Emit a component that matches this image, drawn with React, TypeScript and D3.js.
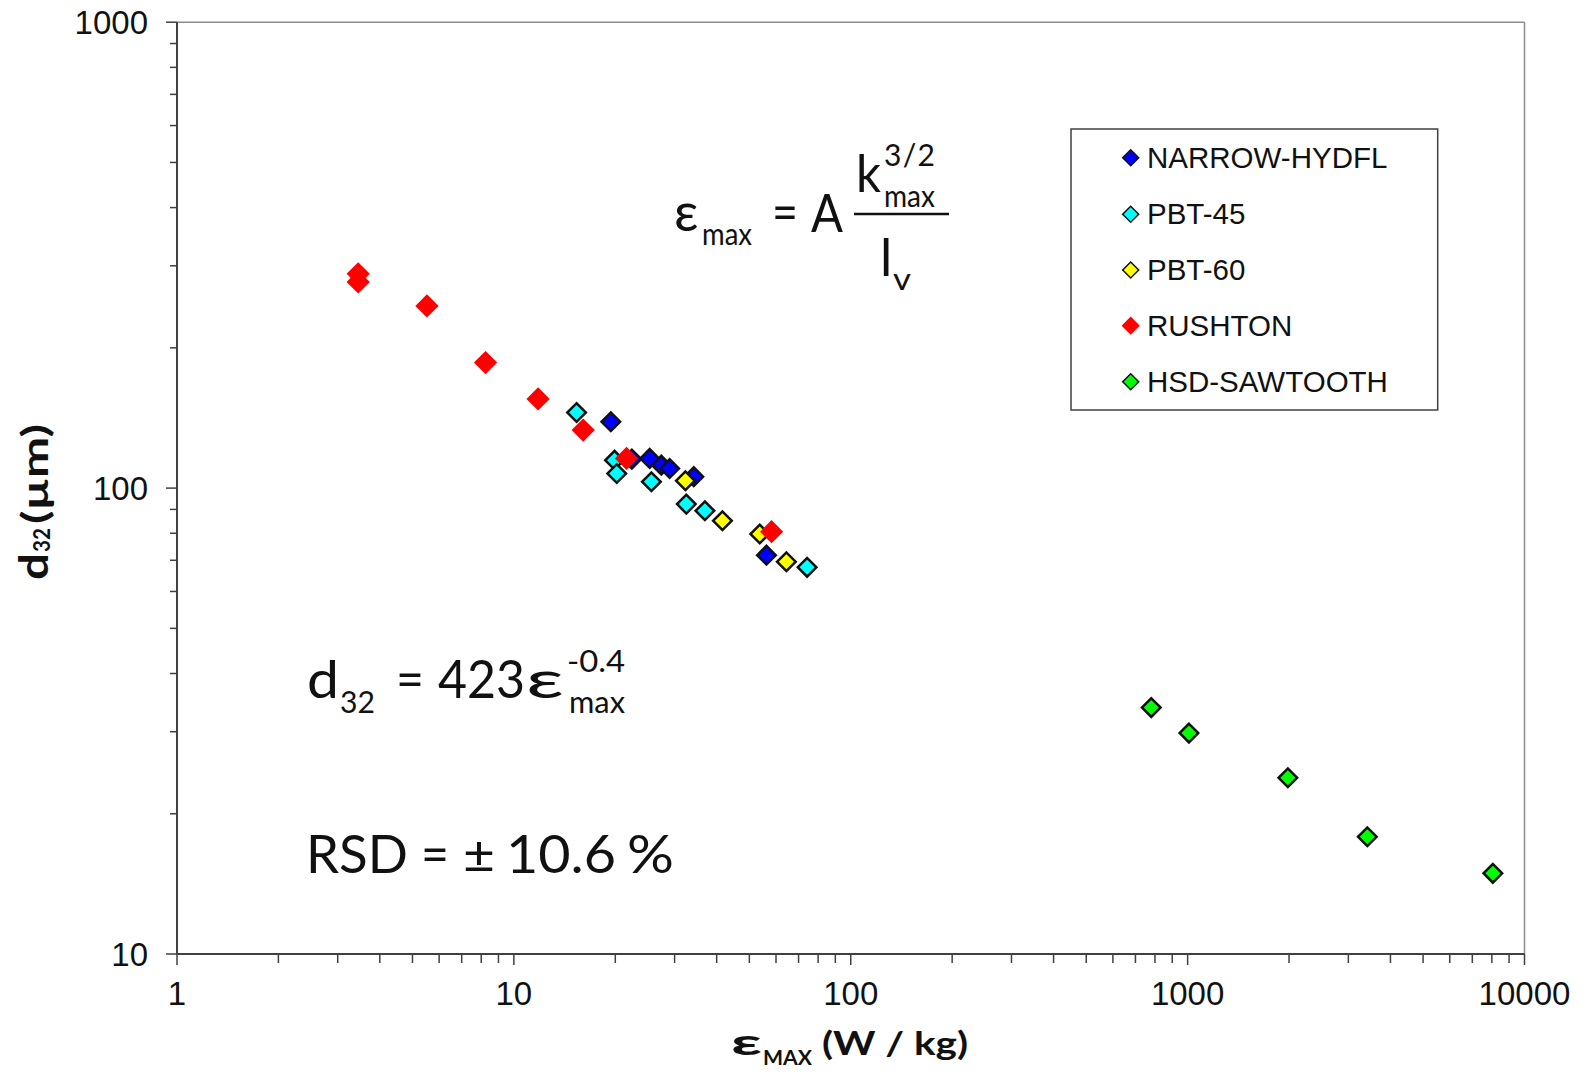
import React from "react";
import * as d3 from "d3";

// ---- data ----
const seriesNames = ["NARROW-HYDFL", "PBT-45", "PBT-60", "RUSHTON", "HSD-SAWTOOTH"];
const seriesColors = ["#0000ff", "#00ffff", "#ffff00", "#ff0000", "#00ff00"];

const narrowX = [19.4, 22.4, 25.3, 27.4, 29.0, 34.2, 56.2];
const narrowY = [138.8, 115.4, 115.8, 112.0, 110.2, 105.8, 71.8];

const pbt45X = [15.35, 19.9, 20.2, 25.6, 32.5, 36.9, 74.2];
const pbt45Y = [145.3, 114.8, 107.5, 103.2, 92.4, 89.4, 67.6];

const pbt60X = [32.3, 41.6, 53.7, 64.4];
const pbt60Y = [103.7, 85.1, 79.7, 69.5];

const rushtonX = [3.45, 3.45, 5.52, 8.24, 11.8, 16.06, 21.6, 58.2];
const rushtonY = [288.4, 277, 246, 186, 155.4, 133.2, 115.8, 80.6];

const hsdX = [780, 1009, 1984, 3415, 8054];
const hsdY = [33.8, 29.8, 23.9, 17.85, 14.9];

const xTickLabels = ["1", "10", "100", "1000", "10000"];
const yTickLabels = ["10", "100", "1000"];

const seriesX = [narrowX, pbt45X, pbt60X, rushtonX, hsdX];
const seriesY = [narrowY, pbt45Y, pbt60Y, rushtonY, hsdY];

const W = 1583;
const H = 1076;
const L = 177, R = 1524.5, T = 22.2, B = 954;

export default function App() {
  const x = d3.scaleLog().domain([1, 10000]).range([L, R]);
  const y = d3.scaleLog().domain([10, 1000]).range([B, T]);

  const sq = (size: number) => d3.symbol().type(d3.symbolSquare).size(size)() as string;
  const markerPath = sq(173);
  const redPath = sq(270);
  const legendPath = sq(128);
  const legendRedPath = sq(165);

  const xMinor = x.ticks().filter((v) => Math.abs(Math.log10(v) - Math.round(Math.log10(v))) > 1e-9);
  const yMinor = y.ticks().filter((v) => Math.abs(Math.log10(v) - Math.round(Math.log10(v))) > 1e-9);

  const axisColor = "#404040";
  const frameColor = "#8c8c8c";
  const tickFont = "'Liberation Sans', Arial, sans-serif";
  const mathFont = "Lato, 'Noto Sans', 'Open Sans', sans-serif";

  const legendRows = [157.7, 214.3, 270, 325.7, 381.7];

  return (
    <div style={{ position: "absolute", left: 0, top: 0 }}>
      <svg width={W} height={H} viewBox={`0 0 ${W} ${H}`} style={{ display: "block", background: "#fff" }}>
        <rect x={0} y={0} width={W} height={H} fill="#fff" />
        {/* frame */}
        <line x1={L} x2={R} y1={T} y2={T} stroke={frameColor} strokeWidth={1.5} />
        <line x1={R} x2={R} y1={T} y2={B} stroke={frameColor} strokeWidth={1.5} />
        {/* axes */}
        <line x1={L} x2={L} y1={T} y2={B} stroke={axisColor} strokeWidth={2} />
        <line x1={L} x2={R} y1={B} y2={B} stroke={axisColor} strokeWidth={2} />

        {/* y ticks */}
        {yTickLabels.map((t) => (
          <g key={"yt" + t}>
            <line x1={L - 11} x2={L} y1={y(+t)} y2={y(+t)} stroke={axisColor} strokeWidth={1.5} />
            <text x={148} y={y(+t) + 11.5} textAnchor="end" fontFamily={tickFont} fontSize={33} fill="#111">
              {t}
            </text>
          </g>
        ))}
        {yMinor.map((v, i) => (
          <line key={"ym" + i} x1={L - 7} x2={L} y1={y(v)} y2={y(v)} stroke={axisColor} strokeWidth={1.5} />
        ))}

        {/* x ticks */}
        {xTickLabels.map((t) => (
          <g key={"xt" + t}>
            <line x1={x(+t)} x2={x(+t)} y1={B} y2={B + 11} stroke={axisColor} strokeWidth={1.5} />
            <text x={x(+t)} y={1005} textAnchor="middle" fontFamily={tickFont} fontSize={33} fill="#111">
              {t}
            </text>
          </g>
        ))}
        {xMinor.map((v, i) => (
          <line key={"xm" + i} x1={x(v)} x2={x(v)} y1={B} y2={B + 9} stroke={axisColor} strokeWidth={1.5} />
        ))}

        {/* data */}
        {seriesX.map((xs, si) => (
          <g key={"s" + si}>
            {xs.map((xv, i) => (
              <path
                key={i}
                d={si === 3 ? redPath : markerPath}
                transform={`translate(${x(xv)},${y(seriesY[si][i])}) rotate(45)`}
                fill={seriesColors[si]}
                stroke={si === 3 ? "none" : "#111"}
                strokeWidth={2.5}
              />
            ))}
          </g>
        ))}

        {/* legend */}
        <rect x={1071} y={129} width={366.7} height={281} fill="#fff" stroke={axisColor} strokeWidth={1.5} />
        {seriesNames.map((n, i) => (
          <g key={"lg" + i}>
            <path
              d={i === 3 ? legendRedPath : legendPath}
              transform={`translate(1130.7,${legendRows[i]}) rotate(45)`}
              fill={seriesColors[i]}
              stroke={i === 3 ? "none" : "#111"}
              strokeWidth={1.5}
            />
            <text x={1147} y={legendRows[i] + 10} fontFamily={tickFont} fontSize={29.5} fill="#111">
              {n}
            </text>
          </g>
        ))}

        {/* epsilon_max formula */}
        <g fontFamily={mathFont} fill="#111">
          <text x={674} y={231} fontSize={54}>ε</text>
          <text x={702} y={245} fontSize={31} textLength={50} lengthAdjust="spacingAndGlyphs">max</text>
          <text x={772} y={231} fontSize={52} textLength={26} lengthAdjust="spacingAndGlyphs">=</text>
          <text x={811} y={232} fontSize={52} textLength={32} lengthAdjust="spacingAndGlyphs">A</text>
          <text x={856} y={192} fontSize={52} textLength={25} lengthAdjust="spacingAndGlyphs">k</text>
          <text x={884} y={166} fontSize={30} textLength={51} lengthAdjust="spacing">3/2</text>
          <text x={884} y={207} fontSize={31} textLength={51} lengthAdjust="spacingAndGlyphs">max</text>
          <line x1={854} x2={949} y1={214} y2={214} stroke="#111" strokeWidth={2.7} />
          <text x={880} y={276} fontSize={52}>l</text>
          <text x={893} y={290} fontSize={31} textLength={18} lengthAdjust="spacingAndGlyphs">v</text>
        </g>

        {/* d32 formula */}
        <g fontFamily={mathFont} fill="#111">
          <text x={307} y={698} fontSize={52} textLength={32} lengthAdjust="spacingAndGlyphs">d</text>
          <text x={340} y={713} fontSize={31} textLength={35} lengthAdjust="spacingAndGlyphs">32</text>
          <text x={396} y={698} fontSize={52} textLength={28} lengthAdjust="spacingAndGlyphs">=</text>
          <text x={438} y={698} fontSize={52} textLength={87} lengthAdjust="spacingAndGlyphs">423</text>
          <text x={526} y={698} fontSize={52} textLength={38} lengthAdjust="spacingAndGlyphs">ε</text>
          <text x={567} y={672} fontSize={31} textLength={58} lengthAdjust="spacingAndGlyphs">-0.4</text>
          <text x={569} y={713} fontSize={31} textLength={56} lengthAdjust="spacingAndGlyphs">max</text>
        </g>

        {/* RSD */}
        <g fontFamily={mathFont} fill="#111">
          <text x={306} y={873} fontSize={52} textLength={102} lengthAdjust="spacingAndGlyphs">RSD</text>
          <text x={421} y={873} fontSize={52} textLength={28} lengthAdjust="spacingAndGlyphs">=</text>
          <text x={463} y={873} fontSize={52} textLength={32} lengthAdjust="spacingAndGlyphs">±</text>
          <text x={506} y={873} fontSize={52} textLength={110} lengthAdjust="spacingAndGlyphs">10.6</text>
          <text x={627} y={873} fontSize={52} textLength={47} lengthAdjust="spacingAndGlyphs">%</text>
        </g>

        {/* x axis title */}
        <g fontFamily={mathFont} fontWeight={700} fill="#111">
          <text x={731} y={1055} fontSize={36} textLength={31} lengthAdjust="spacingAndGlyphs">ε</text>
          <text x={763} y={1065} fontSize={20} textLength={49} lengthAdjust="spacingAndGlyphs">MAX</text>
          <text x={822} y={1055} fontSize={32} textLength={146} lengthAdjust="spacingAndGlyphs">(W / kg)</text>
        </g>

        {/* y axis title */}
        <g transform="translate(48,0) rotate(-90)" fontFamily={mathFont} fontWeight={700} fill="#111">
          <text x={-580} y={0} fontSize={40} textLength={27} lengthAdjust="spacingAndGlyphs">d</text>
          <text x={-552} y={2} fontSize={22} textLength={24} lengthAdjust="spacingAndGlyphs">32</text>
          <text x={-524} y={0} fontSize={36} textLength={100} lengthAdjust="spacingAndGlyphs">(µm)</text>
        </g>
      </svg>
    </div>
  );
}
